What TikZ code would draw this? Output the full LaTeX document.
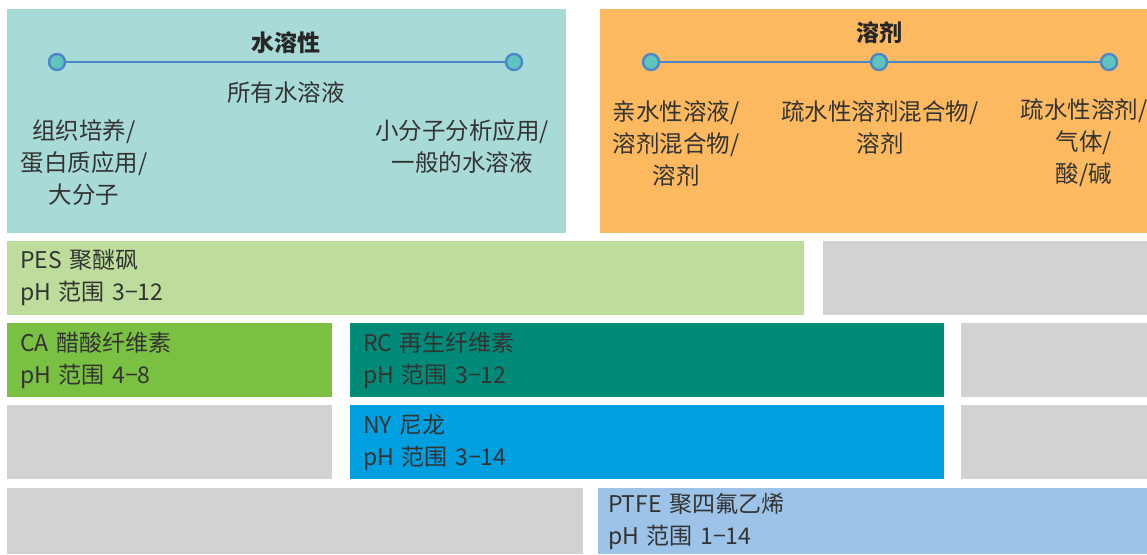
\documentclass[tikz,border=0pt]{standalone}
\usepackage{fontspec}
\setmainfont{Noto Sans CJK SC}
\usetikzlibrary{positioning}

\definecolor{waterbg}{RGB}{168,218,216}
\definecolor{solvbg}{RGB}{253,185,95}
\definecolor{lineblue}{RGB}{74,134,200}
\definecolor{dotteal}{RGB}{94,196,188}
\definecolor{pesgreen}{RGB}{190,220,156}
\definecolor{cagreen}{RGB}{122,193,67}
\definecolor{rcteal}{RGB}{0,138,119}
\definecolor{nyblue}{RGB}{0,159,224}
\definecolor{ptfeblue}{RGB}{157,196,232}
\definecolor{greybox}{RGB}{209,210,212}
\definecolor{txt}{RGB}{51,51,51}

\tikzset{
  blk/.style={anchor=north west, inner sep=0pt, outer sep=0pt},
  mem/.style={blk, minimum height=74pt, inner xsep=13pt, align=left,
    font=\fontsize{23}{32}\selectfont, text=txt},
  dot/.style={circle, draw=lineblue, fill=dotteal, line width=2.4pt,
    minimum size=16pt, inner sep=0pt},
  lbl/.style={align=center, font=\fontsize{23.5}{32}\selectfont, text=txt},
  ttl/.style={font=\fontsize{23}{26}\selectfont\bfseries, text=black!85},
}

\begin{document}
\begin{tikzpicture}[x=1pt, y=-1pt]
    \useasboundingbox (0,0) rectangle (1147,554);

    % 1. Hai khung trên
    \node[blk, fill=waterbg, minimum width=559pt, minimum height=224pt] (water) at (7,9) {};
    \node[blk, fill=solvbg, minimum width=547pt, minimum height=224pt] (solv) at (600,9) {};

    % 2. Thang nước
    \node[ttl] (wtitle) at (286,43) {水溶性};
    \node[dot] (w1) at (57,62) {};
    \node[dot] (w2) at (514,62) {};
    \draw[lineblue, line width=2.8pt] (w1) -- (w2);
    \node[lbl] (wall) at (286,93) {所有水溶液};
    \node[lbl] (wbig) at (84,163) {组织培养/\\蛋白质应用/\\大分子};
    \node[lbl] (wsmall) at (462,147) {小分子分析应用/\\一般的水溶液};

    % 3. Thang dung môi
    \node[ttl] (stitle) at (879,33) {溶剂};
    \node[dot] (s1) at (651,62) {};
    \node[dot] (s2) at (879,62) {};
    \node[dot] (s3) at (1109,62) {};
    \draw[lineblue, line width=2.8pt] (s1) -- (s2);
    \draw[lineblue, line width=2.8pt] (s2) -- (s3);
    \node[lbl] (sphil) at (676,143) {亲水性溶液/\\溶剂混合物/\\溶剂};
    \node[lbl] (smix) at (880,127.5) {疏水性溶剂混合物/\\溶剂};
    \node[lbl] (sphob) at (1084,143) {疏水性溶剂/\\气体/\\酸/碱};

    % 4. Các màng lọc
    \node[mem, fill=pesgreen, text width=771pt] (pes) at (7,241) {PES 聚醚砜\\pH 范围 3−12};
    \node[blk, fill=greybox, minimum width=324pt, minimum height=74pt] (g1) at (823,241) {};

    \node[mem, fill=cagreen, text width=299pt] (ca) at (7,323) {CA 醋酸纤维素\\pH 范围 4−8};
    \node[mem, fill=rcteal, text width=568pt] (rc) at (350,323) {RC 再生纤维素\\pH 范围 3−12};
    \node[blk, fill=greybox, minimum width=186pt, minimum height=74pt] (g2) at (961,323) {};

    \node[blk, fill=greybox, minimum width=325pt, minimum height=74pt] (g3) at (7,405) {};
    \node[mem, fill=nyblue, text width=568pt] (ny) at (350,405) {NY 尼龙\\pH 范围 3−14};
    \node[blk, fill=greybox, minimum width=186pt, minimum height=74pt] (g4) at (961,405) {};

    \node[blk, fill=greybox, minimum width=576pt, minimum height=66pt] (g5) at (7,488) {};
    \node[mem, fill=ptfeblue, text width=529pt, minimum height=66pt, inner xsep=10pt] (ptfe) at (598,488) {PTFE 聚四氟乙烯\\pH 范围 1−14};
\end{tikzpicture}
\end{document}
